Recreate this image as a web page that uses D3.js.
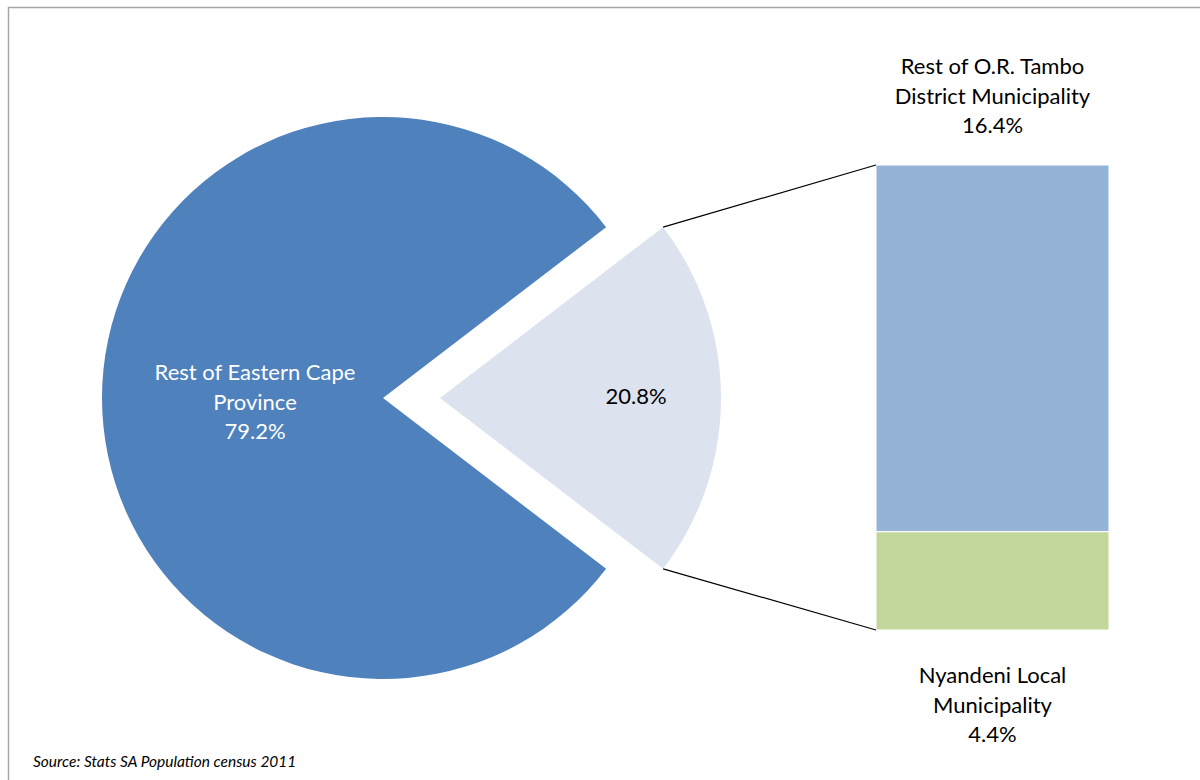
<!DOCTYPE html>
<html>
<head>
<meta charset="utf-8">
<script src="https://cdn.jsdelivr.net/npm/d3@7"></script>
<style>
  html, body { margin: 0; padding: 0; background: #fff; }
  svg { display: block; }
  text { font-family: Lato, "Open Sans", sans-serif; }
</style>
</head>
<body>
<svg id="chart" width="1200" height="780"></svg>
<script>
// Eastern Cape population share (pie) and breakdown of the O.R. Tambo slice (bar)
const pieNames = ["O.R. Tambo District Municipality", "Rest of Eastern Cape Province"];
const pieValues = [20.8, 79.2];
const pieLabels = ["20.8%", "Rest of Eastern Cape\nProvince\n79.2%"];

const barNames = ["Nyandeni Local Municipality", "Rest of O.R. Tambo District Municipality"];
const barValues = [4.4, 16.4];
const barLabels = ["Nyandeni Local\nMunicipality\n4.4%", "Rest of O.R. Tambo\nDistrict Municipality\n16.4%"];

const sourceNote = "Source: Stats SA Population census 2011";

const pieColors = ["#dce2ee", "#4f81bd"];
const barColors = ["#c3d69b", "#95b3d7"];

const fontSize = 22;
const lineGap = 29.6;

const svg = d3.select("#chart");

// outer frame
svg.append("rect")
  .attr("x", 8.5).attr("y", 7.5)
  .attr("width", 1200).attr("height", 800)
  .attr("fill", "none").attr("stroke", "#a6a6a6").attr("stroke-width", 1.5);

const R = 281;
const cy = 398;
const mainCx = 383;
const explode = 57;

const total = d3.sum(pieValues);
const smallFrac = pieValues[0] / total;
const start = Math.PI / 2 - Math.PI * smallFrac;

const pie = d3.pie().sort(null).startAngle(start).endAngle(start + 2 * Math.PI);
const arcs = pie(pieValues);
const arc = d3.arc().innerRadius(0).outerRadius(R);

const slices = svg.append("g");
arcs.forEach((a, i) => {
  const cx = i === 0 ? mainCx + explode : mainCx;
  slices.append("path")
    .attr("transform", `translate(${cx},${cy})`)
    .attr("d", arc(a))
    .attr("fill", pieColors[i]);
});

// pie labels
const labelRadius = [196, 128];
const labelShift = [6, 11.5];
arcs.forEach((a, i) => {
  const cx = i === 0 ? mainCx + explode : mainCx;
  const c = d3.arc().innerRadius(labelRadius[i]).outerRadius(labelRadius[i]).centroid(a);
  const lines = pieLabels[i].split("\n");
  const t = svg.append("text")
    .attr("text-anchor", "middle")
    .attr("font-size", fontSize)
    .attr("fill", i === 0 ? "#000" : "#fff");
  lines.forEach((ln, k) => {
    t.append("tspan")
      .attr("x", cx + c[0])
      .attr("y", cy + c[1] + (k - (lines.length - 1) / 2) * lineGap + labelShift[i])
      .text(ln);
  });
});

// stacked bar
const barX = 876, barW = 233;
const y = d3.scaleLinear().domain([0, d3.sum(barValues)]).range([630, 165]);
const stacked = d3.stack().keys(barNames)([Object.fromEntries(barNames.map((n, i) => [n, barValues[i]]))]);
stacked.forEach((s, i) => {
  const d = s[0];
  svg.append("rect")
    .attr("x", barX).attr("width", barW)
    .attr("y", y(d[1])).attr("height", y(d[0]) - y(d[1]))
    .attr("fill", barColors[i])
    .attr("stroke", "#fff").attr("stroke-width", 1);
});

// connector lines from slice edge to bar corners
const small = arcs[0];
const sx = mainCx + explode;
const topPt = [sx + R * Math.sin(small.startAngle), cy - R * Math.cos(small.startAngle)];
const botPt = [sx + R * Math.sin(small.endAngle), cy - R * Math.cos(small.endAngle)];
svg.append("line")
  .attr("x1", topPt[0]).attr("y1", topPt[1])
  .attr("x2", barX).attr("y2", y(d3.sum(barValues)))
  .attr("stroke", "#000").attr("stroke-width", 1.2);
svg.append("line")
  .attr("x1", botPt[0]).attr("y1", botPt[1])
  .attr("x2", barX).attr("y2", y(0))
  .attr("stroke", "#000").attr("stroke-width", 1.2);

// bar labels (baseline of the middle line)
const barLabelY = [712.8, 103.5];
barLabels.forEach((lbl, i) => {
  const lines = lbl.split("\n");
  const t = svg.append("text")
    .attr("text-anchor", "middle")
    .attr("font-size", fontSize)
    .attr("fill", "#000");
  lines.forEach((ln, k) => {
    t.append("tspan")
      .attr("x", barX + barW / 2)
      .attr("y", barLabelY[i] + (k - 1) * lineGap)
      .text(ln);
  });
});

// source note
svg.append("text")
  .attr("x", 33).attr("y", 767)
  .attr("font-size", 15.5)
  .attr("font-style", "italic")
  .attr("fill", "#000")
  .text(sourceNote);
</script>
</body>
</html>
